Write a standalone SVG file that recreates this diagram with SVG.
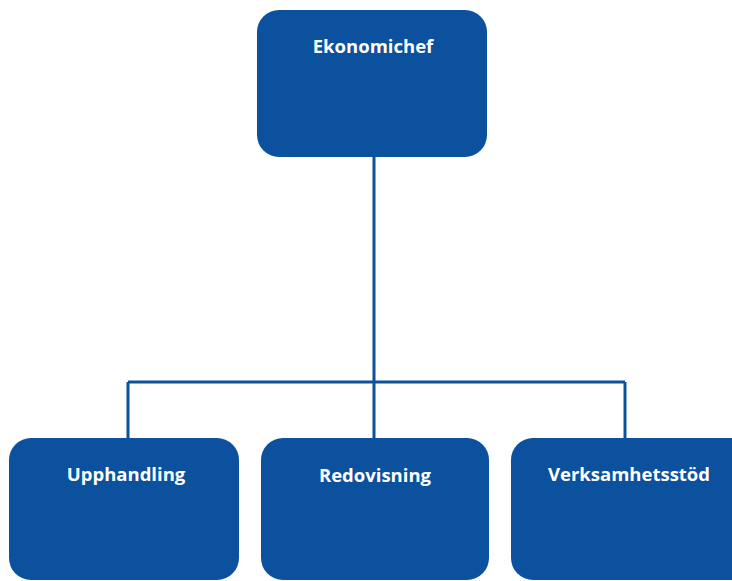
<svg xmlns="http://www.w3.org/2000/svg" width="732" height="581" viewBox="0 0 732 581">
<style>
.box{fill:#0B519D;}
.lbl{font-family:"Open Sans","Liberation Sans",sans-serif;font-weight:bold;font-size:18.5px;fill:#FFFFFF;text-anchor:middle;}
.con{stroke:#0B519D;stroke-width:3;fill:none;}
</style>
<rect width="732" height="581" fill="#FFFFFF"/>
<g id="connectors">
<path class="con" d="M374,157 V382"/>
<path class="con" d="M128,382 H625"/>
<path class="con" d="M128,382 V438"/>
<path class="con" d="M374,382 V438"/>
<path class="con" d="M625,382 V438"/>
</g>
<g id="ekonomichef">
<rect class="box" x="257" y="10" width="230" height="147" rx="22"/>
<text class="lbl" x="373" y="53">Ekonomichef</text>
</g>
<g id="upphandling">
<rect class="box" x="9" y="438" width="230" height="142" rx="22"/>
<text class="lbl" x="126" y="481">Upphandling</text>
</g>
<g id="redovisning">
<rect class="box" x="261" y="438" width="228" height="142" rx="22"/>
<text class="lbl" x="375" y="482">Redovisning</text>
</g>
<g id="verksamhetsstod">
<rect class="box" x="511" y="438" width="243" height="142" rx="22"/>
<text class="lbl" x="629" y="481">Verksamhetsstöd</text>
</g>
</svg>
